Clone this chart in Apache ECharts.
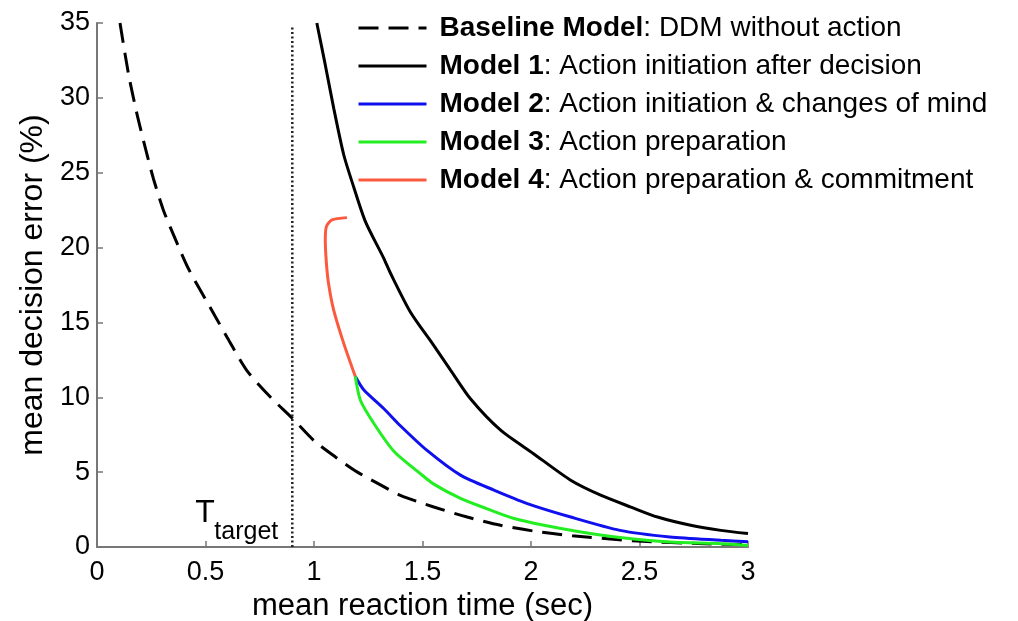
<!DOCTYPE html>
<html>
<head>
<meta charset="utf-8">
<script src="https://cdn.jsdelivr.net/npm/echarts@6/dist/echarts.min.js"></script>
<style>
  html, body { margin: 0; padding: 0; background: #fff; }
  #chart { width: 1018px; height: 621px; }
</style>
</head>
<body>
<div id="chart"></div>
<script>
// mean reaction time (sec) / mean decision error (%)
var baseline = [[0.106,35],[0.145,31.6],[0.183,29.0],[0.222,26.7],[0.26,24.6],[0.306,22.5],[0.36,20.6],[0.421,18.6],[0.545,15.4],[0.6,14.0],[0.69,11.8],[0.8,10.0],[0.9,8.6],[1.0,7.1],[1.1,6.0],[1.2,5.0],[1.3,4.2],[1.398,3.45],[1.552,2.67],[1.706,2.0],[1.86,1.45],[2.01,1.07],[2.19,0.75],[2.49,0.4],[2.8,0.22],[3.0,0.15]]
var model1 = [[1.013,35],[1.052,32.2],[1.091,29.3],[1.137,26.2],[1.184,24.0],[1.238,21.7],[1.321,19.3],[1.352,18.3],[1.444,15.7],[1.55,13.5],[1.63,11.8],[1.721,9.9],[1.86,7.8],[2.01,6.25],[2.183,4.46],[2.321,3.46],[2.46,2.67],[2.583,2.0],[2.736,1.45],[2.875,1.11],[3.0,0.9]]
var model2 = [[1.19,11.4],[1.229,10.5],[1.321,9.25],[1.398,8.1],[1.521,6.45],[1.675,4.8],[1.829,3.8],[1.983,2.9],[2.183,2.0],[2.41,1.11],[2.64,0.67],[2.875,0.45],[3.0,0.35]]
var model3 = [[1.19,11.4],[1.214,9.8],[1.276,8.25],[1.368,6.4],[1.49,4.9],[1.552,4.2],[1.675,3.25],[1.798,2.55],[1.922,1.9],[2.06,1.45],[2.23,1.0],[2.41,0.63],[2.64,0.33],[2.875,0.22],[3.0,0.1]]
var model4 = [[1.152,22.0],[1.083,21.85],[1.057,21.4],[1.052,20.5],[1.057,19.0],[1.067,17.6],[1.091,15.8],[1.137,13.6],[1.19,11.4]]
var tTarget = 0.9
var targetLine = [[tTarget,0],[tTarget,34.7]]

var names = ['Baseline Model','Model 1','Model 2','Model 3','Model 4']
var descriptions = {
  'Baseline Model': 'DDM without action',
  'Model 1': 'Action initiation after decision',
  'Model 2': 'Action initiation & changes of mind',
  'Model 3': 'Action preparation',
  'Model 4': 'Action preparation & commitment'
}

var font = '"Liberation Sans", Arial, Helvetica, sans-serif'
var chart = echarts.init(document.getElementById('chart'))

function lineSeries(name, data, color, type){
  return {
    name: name,
    type: 'line',
    data: data,
    showSymbol: false,
    symbol: 'none',
    smooth: 0.25,
    silent: true,
    lineStyle: { color: color, width: 3, type: type || 'solid' },
    itemStyle: { color: color }
  }
}

var option = {
  backgroundColor: '#ffffff',
  animation: false,
  grid: { left: 97, right: 270, top: 23, bottom: 74, containLabel: false, outerBoundsMode: 'none' },
  legend: {
    orient: 'vertical',
    left: 357,
    top: 14,
    padding: 0,
    data: names,
    itemWidth: 68,
    itemHeight: 14,
    itemGap: 10,
    selectedMode: false,
    itemStyle: { opacity: 0 },
    lineStyle: { width: 3 },
    formatter: function(name){
      return '{b|' + name + '}{n|: ' + descriptions[name] + '}'
    },
    textStyle: {
      padding: [0,0,0,8],
      rich: {
        b: { fontFamily: font, fontSize: 28, fontWeight: 'bold', color: '#000', lineHeight: 30 },
        n: { fontFamily: font, fontSize: 28, color: '#000', lineHeight: 30 }
      }
    }
  },
  xAxis: {
    type: 'value',
    min: 0, max: 3, interval: 0.5,
    name: 'mean reaction time (sec)',
    nameLocation: 'middle',
    nameGap: 40,
    nameTextStyle: { fontFamily: font, fontSize: 31, color: '#000' },
    axisLine: { show: true, lineStyle: { color: '#777', width: 2 } },
    axisTick: { show: true, inside: true, length: 6, lineStyle: { color: '#777', width: 1.5 } },
    axisLabel: { fontFamily: font, fontSize: 27, color: '#000', margin: 12 },
    splitLine: { show: false }
  },
  yAxis: {
    type: 'value',
    min: 0, max: 35, interval: 5,
    name: 'mean decision error (%)',
    nameLocation: 'middle',
    nameGap: 47,
    nameTextStyle: { fontFamily: font, fontSize: 32, color: '#000' },
    axisLine: { show: true, lineStyle: { color: '#777', width: 2 } },
    axisTick: { show: true, inside: true, length: 6, lineStyle: { color: '#777', width: 1.5 } },
    axisLabel: { fontFamily: font, fontSize: 27, color: '#000', margin: 7 },
    splitLine: { show: false }
  },
  series: [
    lineSeries('Baseline Model', baseline, '#000', [20, 10]),
    lineSeries('Model 1', model1, '#000'),
    lineSeries('Model 2', model2, '#1010ee'),
    lineSeries('Model 3', model3, '#22ee22'),
    lineSeries('Model 4', model4, '#fb5a3e'),
    {
      name: 'T target',
      type: 'line',
      data: targetLine,
      symbol: 'none',
      silent: true,
      lineStyle: { color: '#222', width: 2.5, type: [2, 2.5] }
    }
  ]
}
chart.setOption(option)

// T_target label next to the dotted line
var p = chart.convertToPixel({ xAxisIndex: 0, yAxisIndex: 0 }, [tTarget, 0])
chart.setOption({
  graphic: [
    { type: 'text', left: p[0] - 97, top: p[1] - 50, silent: true,
      style: { text: 'T', fontFamily: font, fontSize: 32, fill: '#000' } },
    { type: 'text', left: p[0] - 78, top: p[1] - 27, silent: true,
      style: { text: 'target', fontFamily: font, fontSize: 25, fill: '#000' } }
  ]
})
</script>
</body>
</html>
